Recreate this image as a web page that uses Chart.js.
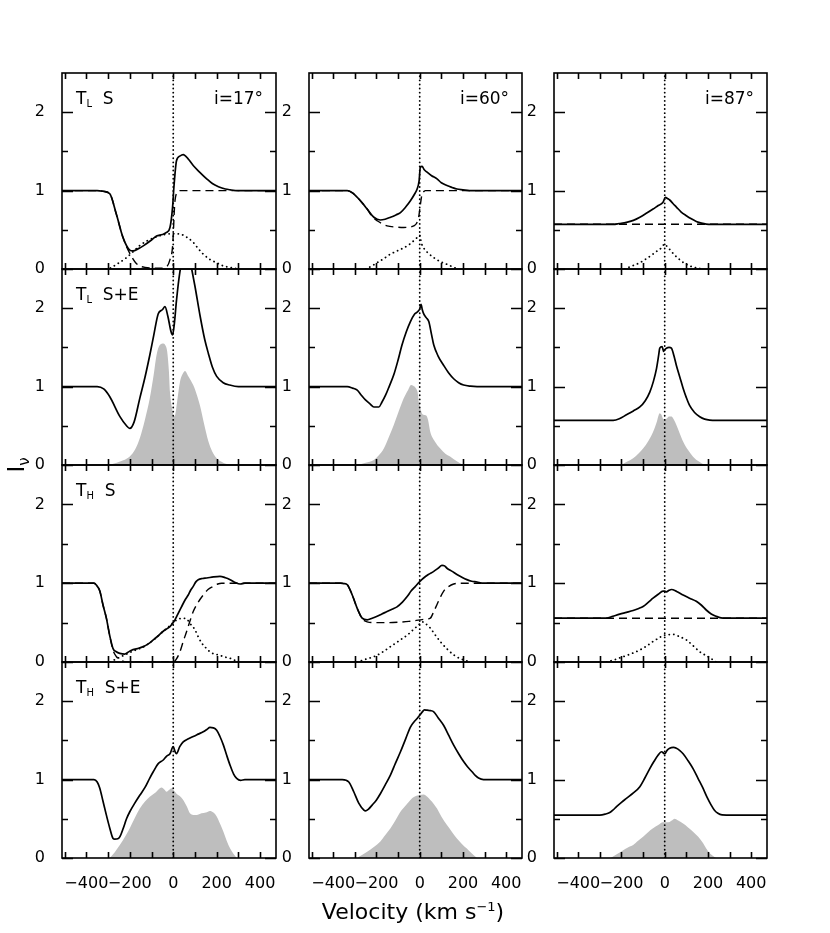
<!DOCTYPE html>
<html>
<head>
<meta charset="utf-8">
<script src="https://cdn.jsdelivr.net/npm/chart.js@4.4.1/dist/chart.umd.min.js"></script>
<style>
  body { margin: 0; background: #fff; }
  #fig { position: relative; width: 830px; height: 933px; font-family: "DejaVu Sans", sans-serif; color: #000; }
  #fig canvas { position: absolute; }
  .lab { position: absolute; font-size: 17px; line-height: 1; white-space: nowrap; }
  .lab sub { font-size: 10px; vertical-align: -3px; }
</style>
</head>
<body>
<div id="fig"></div>
<script>
// velocity (km/s), intensity pairs
// column 1: i = 17 deg
const tlS17Total = [[-512,1],[-350,1],[-320,0.99],[-292,0.96],[-262,0.70],[-231,0.40],[-200,0.24],[-185,0.23],[-160,0.26],[-138,0.295],[-100,0.37],[-77,0.42],[-50,0.44],[-31,0.466],[-15,0.53],[-3,0.79],[3,1.04],[15,1.38],[30,1.44],[46,1.46],[70,1.40],[92,1.32],[120,1.24],[154,1.15],[180,1.09],[208,1.05],[240,1.02],[262,1.01],[300,1.0],[473,1]];
const tlS17Abs = [[-512,1],[-350,1],[-320,0.99],[-292,0.96],[-262,0.70],[-231,0.40],[-200,0.20],[-170,0.07],[-130,0.02],[-60,0.01],[-30,0.03],[-15,0.12],[-3,0.29],[8,0.87],[23,0.99],[30,1.0],[473,1]];
const tlS17Em = [[-310,0],[-292,0.01],[-260,0.06],[-215,0.145],[-185,0.22],[-154,0.30],[-120,0.36],[-77,0.41],[-40,0.44],[0,0.45],[38,0.44],[65,0.40],[92,0.34],[115,0.26],[138,0.19],[170,0.12],[200,0.08],[230,0.04],[262,0.02],[300,0]];

const tlSE17Total = [[-512,1],[-350,1],[-320,0.97],[-292,0.87],[-246,0.62],[-215,0.50],[-200,0.467],[-180,0.55],[-154,0.85],[-130,1.12],[-108,1.40],[-90,1.65],[-69,1.93],[-50,1.98],[-38,2.02],[-25,1.90],[-10,1.70],[-3,1.66],[5,1.80],[15,2.10],[30,2.45],[50,2.72],[70,2.70],[85,2.50],[100,2.28],[123,1.91],[145,1.60],[162,1.42],[180,1.25],[200,1.13],[230,1.05],[260,1.02],[300,1.0],[473,1]];
const tlSE17Disk = [[-300,0],[-260,0.03],[-230,0.06],[-200,0.11],[-175,0.20],[-154,0.34],[-130,0.58],[-108,0.85],[-90,1.15],[-77,1.40],[-62,1.53],[-45,1.55],[-35,1.52],[-28,1.45],[-20,1.20],[-15,0.93],[-5,0.72],[3,0.62],[10,0.65],[20,0.85],[31,1.06],[45,1.17],[54,1.20],[70,1.13],[92,1.02],[108,0.90],[123,0.76],[140,0.55],[162,0.30],[180,0.17],[200,0.085],[230,0.03],[262,0]];

const thS17Total = [[-512,1],[-365,1],[-355,0.98],[-338,0.90],[-323,0.72],[-308,0.56],[-292,0.33],[-277,0.17],[-262,0.13],[-246,0.11],[-223,0.10],[-210,0.12],[-192,0.15],[-165,0.17],[-138,0.195],[-115,0.23],[-92,0.28],[-70,0.33],[-46,0.39],[-30,0.42],[-15,0.45],[0,0.50],[8,0.535],[20,0.60],[38,0.70],[55,0.79],[69,0.85],[80,0.91],[92,0.96],[105,1.02],[115,1.045],[135,1.06],[154,1.066],[185,1.08],[215,1.087],[240,1.07],[262,1.045],[285,1.01],[308,0.99],[330,1.0],[473,1]];
const thS17Abs = [[-512,1],[-365,1],[-355,0.98],[-338,0.90],[-323,0.72],[-308,0.56],[-292,0.33],[-277,0.15],[-262,0.07],[-246,0.03],[-230,0.01],[-215,0],[0,0],[15,0.04],[31,0.13],[46,0.26],[62,0.39],[77,0.52],[92,0.64],[115,0.76],[138,0.85],[160,0.92],[185,0.96],[205,0.99],[223,1.0],[473,1]];
const thS17Em = [[-290,0],[-269,0.03],[-246,0.06],[-223,0.09],[-192,0.13],[-165,0.16],[-138,0.19],[-100,0.26],[-70,0.33],[-46,0.39],[-20,0.45],[0,0.50],[20,0.54],[45,0.555],[62,0.545],[80,0.48],[100,0.41],[115,0.32],[131,0.24],[150,0.18],[169,0.13],[190,0.10],[208,0.09],[235,0.065],[262,0.047],[300,0]];

const thSE17Total = [[-512,1],[-365,1],[-350,0.97],[-338,0.89],[-323,0.72],[-308,0.55],[-292,0.38],[-277,0.25],[-269,0.24],[-255,0.245],[-246,0.27],[-230,0.38],[-215,0.50],[-200,0.59],[-177,0.70],[-154,0.80],[-130,0.90],[-108,1.02],[-92,1.10],[-70,1.20],[-46,1.25],[-30,1.30],[-15,1.33],[0,1.42],[8,1.36],[15,1.33],[30,1.42],[46,1.48],[70,1.52],[92,1.55],[115,1.58],[138,1.61],[155,1.64],[169,1.665],[185,1.66],[200,1.63],[215,1.55],[231,1.44],[246,1.31],[262,1.18],[278,1.07],[292,1.015],[310,0.99],[330,1.0],[473,1]];
const thSE17Disk = [[-292,0],[-270,0.07],[-246,0.165],[-220,0.28],[-200,0.38],[-177,0.51],[-154,0.63],[-130,0.72],[-108,0.78],[-80,0.84],[-54,0.90],[-40,0.87],[-31,0.845],[-18,0.87],[-8,0.89],[3,0.86],[15,0.82],[30,0.79],[46,0.74],[62,0.66],[77,0.57],[92,0.55],[108,0.55],[130,0.57],[150,0.58],[169,0.60],[185,0.58],[200,0.53],[215,0.44],[231,0.335],[246,0.22],[262,0.12],[278,0.05],[292,0]];

// column 2: i = 60 deg
const tlS60Total = [[-512,1],[-335,1],[-310,0.97],[-289,0.915],[-265,0.84],[-243,0.765],[-212,0.66],[-182,0.625],[-160,0.635],[-135,0.66],[-110,0.69],[-89,0.72],[-65,0.79],[-43,0.87],[-25,0.95],[-12,1.02],[-3,1.12],[3,1.30],[11,1.31],[20,1.27],[34,1.235],[55,1.19],[80,1.15],[100,1.10],[126,1.065],[150,1.04],[172,1.02],[200,1.01],[230,1.0],[473,1]];
const tlS60Abs = [[-512,1],[-335,1],[-310,0.97],[-289,0.915],[-265,0.84],[-243,0.765],[-220,0.67],[-197,0.615],[-175,0.58],[-151,0.55],[-110,0.535],[-74,0.53],[-45,0.535],[-28,0.55],[-15,0.58],[-5,0.66],[3,0.82],[11,0.96],[20,0.99],[26,1.0],[473,1]];
const tlS60Em = [[-250,0],[-220,0.04],[-197,0.08],[-165,0.135],[-135,0.19],[-105,0.23],[-74,0.27],[-45,0.32],[-20,0.38],[-5,0.42],[0,0.43],[8,0.33],[18,0.27],[40,0.20],[65,0.145],[95,0.095],[126,0.06],[150,0.03],[175,0]];

const tlSE60Total = [[-512,1],[-335,1],[-310,0.98],[-289,0.955],[-270,0.89],[-251,0.83],[-230,0.78],[-212,0.74],[-189,0.74],[-175,0.80],[-158,0.89],[-140,1.01],[-120,1.15],[-100,1.34],[-82,1.53],[-62,1.70],[-43,1.83],[-25,1.92],[-12,1.95],[0,1.99],[6,2.05],[12,1.98],[18,1.93],[30,1.88],[42,1.83],[55,1.66],[65,1.53],[85,1.39],[111,1.27],[135,1.17],[157,1.10],[180,1.05],[203,1.02],[235,1.005],[265,1.0],[473,1]];
const tlSE60Disk = [[-290,0],[-250,0.03],[-212,0.064],[-190,0.12],[-166,0.21],[-145,0.34],[-120,0.51],[-95,0.70],[-74,0.85],[-55,0.95],[-40,1.02],[-30,1.01],[-18,0.98],[-10,0.93],[-3,0.78],[3,0.72],[10,0.66],[18,0.64],[30,0.63],[38,0.58],[49,0.42],[70,0.30],[95,0.21],[120,0.14],[142,0.106],[170,0.05],[195,0.01],[210,0]];

const thS60Total = [[-512,1],[-366,1],[-350,0.995],[-335,0.98],[-312,0.85],[-289,0.68],[-266,0.556],[-243,0.535],[-220,0.555],[-197,0.58],[-175,0.61],[-151,0.64],[-128,0.67],[-105,0.70],[-80,0.76],[-58,0.83],[-40,0.90],[-20,0.96],[0,1.02],[18,1.066],[40,1.11],[65,1.15],[85,1.19],[103,1.227],[115,1.22],[126,1.19],[150,1.15],[172,1.11],[195,1.075],[218,1.045],[240,1.025],[265,1.015],[290,1.0],[473,1]];
const thS60Abs = [[-512,1],[-366,1],[-350,0.995],[-335,0.98],[-312,0.85],[-289,0.68],[-266,0.55],[-243,0.51],[-200,0.50],[-150,0.50],[-100,0.505],[-50,0.515],[3,0.535],[30,0.545],[49,0.556],[65,0.64],[80,0.73],[95,0.82],[111,0.90],[135,0.96],[157,0.99],[180,1.0],[473,1]];
const thS60Em = [[-290,0],[-250,0.035],[-212,0.068],[-175,0.12],[-135,0.195],[-95,0.27],[-58,0.34],[-30,0.41],[-5,0.47],[11,0.51],[25,0.49],[49,0.43],[70,0.35],[95,0.26],[125,0.17],[157,0.09],[190,0.04],[234,0]];

const thSE60Total = [[-512,1],[-358,1],[-328,0.97],[-305,0.845],[-282,0.70],[-258,0.61],[-251,0.60],[-238,0.62],[-220,0.675],[-200,0.74],[-182,0.82],[-160,0.93],[-135,1.06],[-112,1.21],[-89,1.355],[-65,1.52],[-43,1.67],[-25,1.74],[-12,1.78],[0,1.82],[11,1.86],[22,1.89],[34,1.885],[50,1.88],[65,1.865],[85,1.79],[111,1.69],[135,1.56],[157,1.44],[180,1.33],[203,1.23],[222,1.16],[242,1.10],[258,1.05],[272,1.02],[295,1.0],[473,1]];
const thSE60Disk = [[-289,0],[-265,0.04],[-243,0.08],[-212,0.14],[-182,0.21],[-160,0.29],[-135,0.38],[-110,0.49],[-89,0.59],[-65,0.67],[-43,0.74],[-25,0.78],[-5,0.80],[18,0.81],[35,0.78],[49,0.74],[65,0.69],[80,0.63],[100,0.53],[126,0.42],[150,0.33],[172,0.25],[195,0.18],[218,0.12],[240,0.06],[265,0]];

// column 3: i = 87 deg
const tlS87Total = [[-512,0.57],[-238,0.57],[-210,0.58],[-177,0.594],[-145,0.62],[-115,0.66],[-85,0.71],[-54,0.765],[-30,0.81],[-8,0.85],[3,0.915],[12,0.90],[23,0.88],[38,0.835],[54,0.79],[75,0.73],[100,0.68],[123,0.64],[146,0.607],[170,0.585],[192,0.573],[220,0.57],[473,0.57]];
const tlS87Abs = [[-512,0.57],[473,0.57]];
const tlS87Em = [[-185,0],[-150,0.04],[-115,0.08],[-85,0.13],[-54,0.19],[-30,0.24],[-15,0.27],[0,0.32],[10,0.29],[23,0.25],[45,0.18],[69,0.12],[90,0.075],[115,0.04],[145,0.015],[177,0]];

const tlSE87Total = [[-512,0.57],[-238,0.57],[-210,0.59],[-177,0.64],[-145,0.69],[-115,0.74],[-90,0.82],[-69,0.93],[-52,1.07],[-38,1.23],[-28,1.40],[-23,1.49],[-12,1.51],[-5,1.45],[0,1.47],[8,1.49],[20,1.50],[31,1.49],[42,1.40],[54,1.27],[70,1.12],[85,0.98],[100,0.86],[115,0.76],[138,0.67],[162,0.616],[185,0.585],[208,0.573],[240,0.57],[473,0.57]];
const tlSE87Disk = [[-200,0],[-175,0.04],[-146,0.085],[-120,0.15],[-100,0.21],[-75,0.31],[-54,0.42],[-38,0.54],[-23,0.66],[-15,0.64],[-8,0.59],[0,0.58],[8,0.59],[20,0.62],[31,0.62],[42,0.58],[54,0.51],[70,0.40],[85,0.30],[108,0.19],[131,0.106],[160,0.04],[185,0]];

const thS87Total = [[-512,0.556],[-269,0.556],[-240,0.58],[-208,0.607],[-177,0.63],[-146,0.654],[-120,0.68],[-100,0.705],[-75,0.76],[-54,0.81],[-30,0.86],[-8,0.90],[0,0.90],[8,0.89],[20,0.91],[31,0.92],[55,0.895],[85,0.85],[115,0.81],[146,0.77],[170,0.72],[192,0.66],[215,0.61],[238,0.58],[260,0.56],[285,0.556],[473,0.556]];
const thS87Abs = [[-512,0.556],[473,0.556]];
const thS87Em = [[-269,0],[-230,0.03],[-192,0.068],[-150,0.11],[-115,0.153],[-85,0.20],[-54,0.26],[-30,0.30],[-8,0.335],[15,0.345],[38,0.35],[70,0.32],[100,0.28],[130,0.21],[162,0.13],[200,0.068],[238,0]];

const thSE87Total = [[-512,0.548],[-300,0.548],[-275,0.56],[-254,0.58],[-240,0.61],[-223,0.655],[-200,0.71],[-177,0.76],[-145,0.83],[-115,0.91],[-92,1.02],[-69,1.14],[-50,1.23],[-31,1.31],[-15,1.355],[0,1.33],[10,1.37],[23,1.40],[40,1.41],[54,1.40],[70,1.37],[85,1.33],[108,1.24],[131,1.14],[155,1.01],[177,0.89],[195,0.78],[215,0.675],[230,0.61],[246,0.57],[265,0.55],[285,0.548],[473,0.548]];
const thSE87Disk = [[-250,0],[-220,0.05],[-192,0.10],[-170,0.135],[-146,0.166],[-123,0.22],[-100,0.27],[-77,0.33],[-54,0.38],[-30,0.42],[-8,0.455],[10,0.455],[23,0.46],[35,0.48],[46,0.50],[60,0.48],[85,0.44],[108,0.39],[131,0.335],[155,0.27],[177,0.19],[192,0.12],[208,0.06],[222,0.03],[238,0]];

// axes
const velRange = [-512, 473];
const intRange = [0, 2.5];
const xTickLabels = [-400, -200, 0, 200, 400];
const xMinorTicks = [-500, -400, -300, -200, -100, 0, 100, 200, 300, 400];
const yTickLabels = [0, 1, 2];
const yMinorTicks = [0.5, 1.5];
const rowLabels = ['T<sub>L</sub>&nbsp; S', 'T<sub>L</sub>&nbsp; S+E', 'T<sub>H</sub>&nbsp; S', 'T<sub>H</sub>&nbsp; S+E'];
const colLabels = ['i=17°', 'i=60°', 'i=87°'];

const panels = [
  [ {total: tlS17Total, abs: tlS17Abs, em: tlS17Em}, {total: tlS60Total, abs: tlS60Abs, em: tlS60Em}, {total: tlS87Total, abs: tlS87Abs, em: tlS87Em} ],
  [ {total: tlSE17Total, disk: tlSE17Disk}, {total: tlSE60Total, disk: tlSE60Disk}, {total: tlSE87Total, disk: tlSE87Disk} ],
  [ {total: thS17Total, abs: thS17Abs, em: thS17Em}, {total: thS60Total, abs: thS60Abs, em: thS60Em}, {total: thS87Total, abs: thS87Abs, em: thS87Em} ],
  [ {total: thSE17Total, disk: thSE17Disk}, {total: thSE60Total, disk: thSE60Disk}, {total: thSE87Total, disk: thSE87Disk} ]
];

// frame layout in page pixels
const colLeft = [62, 309, 554];
const colWidth = [214, 213, 213];
const rowTop = [73, 269, 465, 662];
const rowHeight = [196, 196, 197, 196];
const Y_AXIS_W = 45, PAD = 8, X_AXIS_H = 38;
const FONT = '"DejaVu Sans", sans-serif';

const toXY = arr => arr.map(([x, y]) => ({ x, y }));

// no label overhang padding, so the plot area lands exactly where asked
const noPad = s => { s.paddingTop = 0; s.paddingBottom = 0; s.paddingLeft = 0; s.paddingRight = 0; };

const framePlugin = {
  id: 'frame',
  afterDraw(chart) {
    const { ctx, chartArea: a, scales: { x, y } } = chart;
    ctx.save();
    ctx.strokeStyle = '#000';
    ctx.lineWidth = 1.6;
    ctx.strokeRect(a.left, a.top, a.right - a.left, a.bottom - a.top);
    ctx.beginPath();
    xMinorTicks.forEach(v => {
      const px = Math.round(x.getPixelForValue(v)) + 0.5;
      ctx.moveTo(px, a.bottom); ctx.lineTo(px, a.bottom - 6);
      ctx.moveTo(px, a.top); ctx.lineTo(px, a.top + 6);
    });
    yTickLabels.concat(yMinorTicks).forEach(v => {
      const py = Math.round(y.getPixelForValue(v)) + 0.5;
      const len = yTickLabels.includes(v) ? 11 : 6;
      ctx.moveTo(a.left, py); ctx.lineTo(a.left + len, py);
      ctx.moveTo(a.right, py); ctx.lineTo(a.right - len, py);
    });
    ctx.stroke();
    ctx.restore();
  }
};

const fig = document.getElementById('fig');

function addLabel(html, left, top, extra) {
  const d = document.createElement('div');
  d.className = 'lab';
  d.innerHTML = html;
  d.style.left = left + 'px';
  d.style.top = top + 'px';
  if (extra) Object.assign(d.style, extra);
  fig.appendChild(d);
  return d;
}

panels.forEach((row, r) => {
  row.forEach((p, c) => {
    const bottom = r === panels.length - 1;
    const canvas = document.createElement('canvas');
    const w = colWidth[c] + Y_AXIS_W + PAD;
    const h = rowHeight[r] + PAD + (bottom ? X_AXIS_H : PAD);
    canvas.width = w;
    canvas.height = h;
    canvas.style.left = (colLeft[c] - Y_AXIS_W) + 'px';
    canvas.style.top = (rowTop[r] - PAD) + 'px';
    fig.appendChild(canvas);

    const line = { borderColor: '#000', pointRadius: 0, fill: false, cubicInterpolationMode: 'monotone' };
    const datasets = [
      { ...line, data: toXY(p.total), borderWidth: 1.7 }
    ];
    if (p.abs) datasets.push({ ...line, data: toXY(p.abs), borderWidth: 1.4, borderDash: [8, 5] });
    if (p.em) datasets.push({ ...line, data: toXY(p.em), borderWidth: 1.8, borderDash: [0.1, 4.5], borderCapStyle: 'round' });
    datasets.push({ ...line, data: [{ x: 0, y: intRange[0] }, { x: 0, y: intRange[1] }], borderWidth: 1.8, borderDash: [0.1, 4], borderCapStyle: 'round', cubicInterpolationMode: 'default', tension: 0 });
    if (p.disk) datasets.push({ data: toXY(p.disk), pointRadius: 0, borderWidth: 0, borderColor: 'rgba(0,0,0,0)', backgroundColor: '#bebebe', fill: 'origin', cubicInterpolationMode: 'monotone' });

    new Chart(canvas, {
      type: 'line',
      data: { datasets },
      options: {
        responsive: false,
        animation: false,
        devicePixelRatio: 1,
        layout: { padding: { left: 0, top: PAD, right: PAD, bottom: bottom ? 0 : PAD } },
        plugins: { legend: { display: false }, tooltip: { enabled: false } },
        scales: {
          x: {
            type: 'linear',
            min: velRange[0],
            max: velRange[1],
            grid: { display: false },
            border: { display: false },
            afterBuildTicks: s => { s.ticks = xTickLabels.map(value => ({ value })); },
            afterFit: s => { s.height = bottom ? X_AXIS_H : 0; noPad(s); },
            ticks: {
              display: bottom,
              autoSkip: false,
              maxRotation: 0,
              minRotation: 0,
              padding: 8,
              color: '#000',
              font: { family: FONT, size: 16 },
              callback: v => (v < 0 ? '\u2212' + Math.abs(v) : String(v))
            }
          },
          y: {
            type: 'linear',
            min: intRange[0],
            max: intRange[1],
            grid: { display: false },
            border: { display: false },
            afterBuildTicks: s => { s.ticks = yTickLabels.map(value => ({ value })); },
            afterFit: s => { s.width = Y_AXIS_W; noPad(s); },
            ticks: { padding: 9, color: '#000', font: { family: FONT, size: 16 } }
          }
        }
      },
      plugins: [framePlugin]
    });

    if (c === 0) addLabel(rowLabels[r], colLeft[c] + 14, rowTop[r] + 17);
    if (r === 0) addLabel(colLabels[c], colLeft[c] + colWidth[c] - 62, rowTop[r] + 17);
  });
});

// axis titles
addLabel('Velocity (km s<sup style="font-size:13px;vertical-align:8px">\u22121</sup>)', 413, 900,
  { fontSize: '22px', transform: 'translateX(-50%)' });
addLabel('I<sub style="font-size:15px;vertical-align:-5px">\u03bd</sub>', 18, 465,
  { fontSize: '23px', transform: 'translate(-50%,-50%) rotate(-90deg)' });
</script>
</body>
</html>
